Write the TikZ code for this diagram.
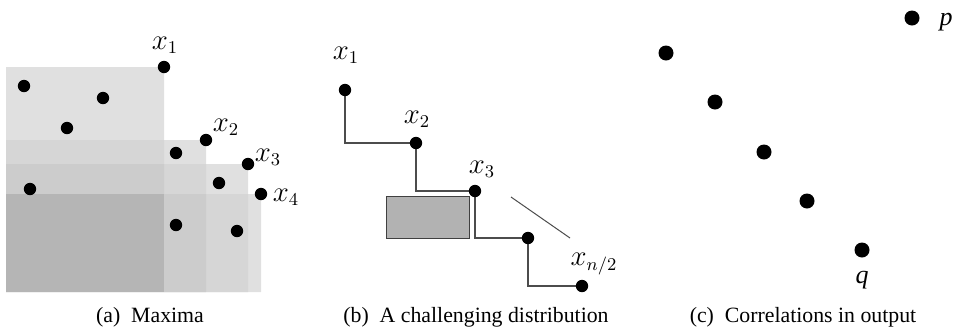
\documentclass[tikz,border=0pt]{standalone}
\usepackage[no-math]{fontspec}
\newfontfamily\capfont{Liberation Serif}
\begin{document}
\begin{tikzpicture}[x=0.5pt,y=-0.5pt,
  dot/.style={circle,fill=black,inner sep=0pt,minimum size=6.2pt},
  bigdot/.style={circle,fill=black,inner sep=0pt,minimum size=7.5pt},
  lab/.style={inner sep=0pt,font=\fontsize{13.5}{16}\selectfont},
  tlab/.style={inner sep=0pt,font=\capfont\itshape\fontsize{13}{15}\selectfont},
  captext/.style={inner sep=0pt,font=\capfont\fontsize{10.9}{13}\selectfont},
  stair/.style={draw=black!70,line width=0.6pt},
  graybox/.style={draw=black!75,fill=black!30,line width=0.5pt}]
\useasboundingbox (0,0) rectangle (955,333);
% ---------- panel (a)
\coordinate (a1) at (164,67);
\coordinate (a2) at (206,140);
\coordinate (a3) at (248,164);
\coordinate (a4) at (261,194);
\coordinate (aBL) at (6,292);
\colorlet{Lone}{black!12}
\colorlet{Ltwo}{black!16}
\colorlet{Lthree}{black!20}
\colorlet{Lfour}{black!29}
\fill[Lone] (aBL) rectangle (a1) (aBL) rectangle (a2) (aBL) rectangle (a3) (aBL) rectangle (a4);
\fill[Ltwo] (aBL) rectangle (a1 |- a2) (aBL) rectangle (a2 |- a3) (aBL) rectangle (a3 |- a4);
\fill[Lthree] (aBL) rectangle (a1 |- a3) (aBL) rectangle (a2 |- a4);
\fill[Lfour] (aBL) rectangle (a1 |- a4);
\node[dot] (A1) at (a1) {};
\node[dot] (A2) at (a2) {};
\node[dot] (A3) at (a3) {};
\node[dot] (A4) at (a4) {};
\node[dot] (p1) at (24,86) {};
\node[dot] (p2) at (103,98) {};
\node[dot] (p3) at (67,128) {};
\node[dot] (p4) at (30,189) {};
\node[dot] (p5) at (176,153) {};
\node[dot] (p6) at (219,183) {};
\node[dot] (p7) at (176,225) {};
\node[dot] (p8) at (237,231) {};
\node[lab] (la1) at (165,45) {$x_1$};
\node[lab] (la2) at (226,127) {$x_2$};
\node[lab] (la3) at (268,157) {$x_3$};
\node[lab] (la4) at (286,197) {$x_4$};
\node[captext] (capa) at (150,317) {(a)\enspace Maxima};
% ---------- panel (b)
\coordinate (b1) at (345,90);
\coordinate (b2) at (416,143);
\coordinate (b3) at (475,191);
\coordinate (b4) at (528,238);
\coordinate (b5) at (582,286);
\draw[stair] (b1) |- (b2);
\draw[stair] (b2) |- (b3);
\draw[stair] (b3) |- (b4);
\draw[stair] (b4) |- (b5);
\node[dot] (B1) at (b1) {};
\node[dot] (B2) at (b2) {};
\node[dot] (B3) at (b3) {};
\node[dot] (B4) at (b4) {};
\node[dot] (B5) at (b5) {};
\draw[graybox] (386,196) rectangle (469,238);
\coordinate (d1) at (511,197);
\coordinate (d2) at (570,238);
\draw[black!70,line width=0.5pt] (d1) -- (d2);
\node[lab] (lb1) at (346,55) {$x_1$};
\node[lab] (lb2) at (417,119) {$x_2$};
\node[lab] (lb3) at (482,169) {$x_3$};
\node[lab] (lb4) at (594,264) {$x_{n/2}$};
\node[captext] (capb) at (476,317) {(b)\enspace A challenging distribution};
% ---------- panel (c)
\node[bigdot] (P) at (912,18) {};
\node[bigdot] (c1) at (666,53) {};
\node[bigdot] (c2) at (715,102) {};
\node[bigdot] (c3) at (764,152) {};
\node[bigdot] (c4) at (807,201) {};
\node[bigdot] (Q) at (862,250) {};
\node[tlab] (lp) at (946,22) {p};
\node[tlab] (lq) at (862,280) {q};
\node[captext] (capc) at (803,317) {(c)\enspace Correlations in output};
\end{tikzpicture}
\end{document}
